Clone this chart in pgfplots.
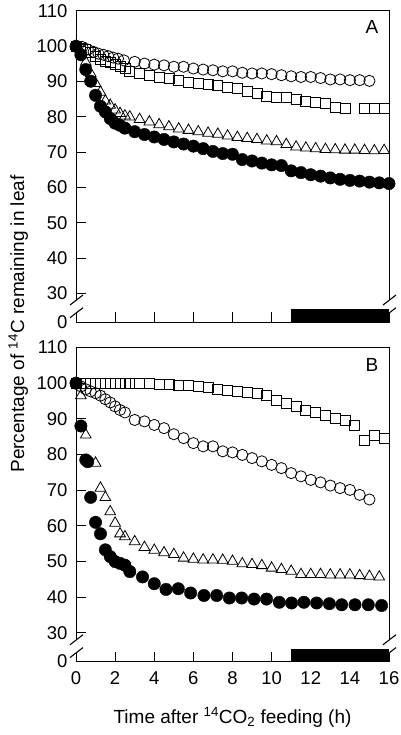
\documentclass[border=0pt]{standalone}
\usepackage{fontspec}
\setmainfont{Liberation Sans}
\usepackage{pgfplots}
\pgfplotsset{compat=1.18}

\tikzset{brk/.style={line width=1.1pt}}
\pgfplotsset{
  panel/.style={
    scale only axis, width=313pt,
    xmin=0, xmax=16, ymax=110, clip=false,
    xtick={0,2,...,16}, ytick={30,40,...,110},
    tick align=inside, xtick pos=bottom, ytick pos=left,
    major tick length=10pt,
    axis line style={line width=1pt},
    tick style={line width=1pt, black},
    tick label style={font=\fontsize{18.5}{21}\selectfont},
    yticklabel style={xshift=-5pt},
    xticklabel style={yshift=-7pt},
    /pgf/number format/assume math mode=true,
    extra y tick style={major tick length=0pt},
  },
  oc/.style={only marks, black, mark=o, mark size=5.6pt, mark options={line width=0.8pt}},
  sq/.style={only marks, black, mark=square, mark size=5pt, mark options={line width=0.8pt}},
  tri/.style={only marks, black, mark=triangle, mark size=6.2pt, mark options={line width=0.8pt}},
  fc/.style={only marks, black, mark=*, mark size=6.2pt, mark options={fill=black, line width=0.4pt}},
}

\begin{document}
\begin{tikzpicture}
\path[use as bounding box] (0pt,0pt) rectangle (400pt,-735pt);

% ---------------- Panel A ----------------
\begin{axis}[panel, at={(76pt,-322pt)}, anchor=south west, height=311pt,
  ymin=21.87, xticklabels={},
  extra y ticks={21.87}, extra y tick labels={0}]
\addplot[sq] coordinates {
(0,100) (0.25,99.5) (0.5,99.0) (0.75,98.3) (1.0,97.2) (1.25,96.4) (1.5,95.8) (1.75,95.4)
(2.0,94.8) (2.25,94.3) (2.5,93.7) (2.75,92.9) (3.25,92.4) (3.75,91.8) (4.25,91.3) (4.75,91.0)
(5.25,90.4) (5.75,89.9) (6.25,89.6) (6.75,89.2) (7.25,88.9) (7.75,88.4) (8.25,88.0) (8.75,87.1)
(9.25,86.6) (9.75,85.9) (10.25,85.6) (10.75,85.6) (11.25,85.0) (11.75,84.5) (12.25,84.2)
(12.75,83.9) (13.25,82.8) (13.75,82.5) (14.75,82.4) (15.25,82.4) (15.75,82.4)};
\addplot[oc] coordinates {
(0,100) (0.33,99.8) (0.6,99.1) (0.9,98.4) (1.15,97.9) (1.4,97.6) (1.65,97.2) (1.9,96.8)
(2.15,96.5) (2.45,96.0) (3.0,95.6) (3.5,95.1) (4.0,94.8) (4.5,94.6) (5.0,94.2) (5.5,94.2)
(6.0,93.7) (6.5,93.4) (7.0,93.2) (7.5,92.9) (8.0,92.9) (8.5,92.5) (9.0,92.3) (9.5,92.3)
(10.0,92.1) (10.5,91.8) (11.0,91.5) (11.5,91.3) (12.0,91.3) (12.5,91.0) (13.0,90.6)
(13.5,90.6) (14.0,90.4) (14.5,90.4) (15.0,90.2)};
\addplot[tri] coordinates {
(0,100) (0.5,95.5) (0.75,92.3) (1.0,89.5) (1.25,87.0) (1.5,84.5) (1.75,83.3) (2.0,82.0)
(2.25,81.0) (2.5,80.3) (2.75,80.0) (3.25,79.3) (3.75,78.6) (4.25,77.8) (4.75,77.2)
(5.25,76.6) (5.75,76.2) (6.25,75.8) (6.75,75.4) (7.25,75.1) (7.75,74.6) (8.25,74.2)
(8.75,73.9) (9.25,73.6) (9.75,73.2) (10.25,73.0) (10.75,72.2) (11.25,71.5) (11.75,71.2)
(12.25,71.0) (12.75,70.8) (13.25,70.7) (13.75,70.6) (14.25,70.6) (14.75,70.5) (15.25,70.4)
(15.75,70.5)};
\addplot[fc] coordinates {
(0,100) (0.25,97.6) (0.5,93.4) (0.75,90.1) (1.0,86.1) (1.25,83.0) (1.5,81.4) (1.75,79.5)
(2.0,78.2) (2.25,77.6) (2.5,76.8) (3.0,75.8) (3.5,75.0) (4.0,74.3) (4.5,73.6) (5.0,72.9)
(5.5,72.3) (6.0,71.7) (6.5,71.0) (7.0,70.2) (7.5,69.6) (8.0,69.4) (8.5,67.9) (9.0,67.5)
(9.5,66.9) (10.0,66.4) (10.5,66.2) (11.0,64.7) (11.5,64.2) (12.0,63.6) (12.5,63.2)
(13.0,62.7) (13.5,62.3) (14.0,62.0) (14.5,61.8) (15.0,61.5) (15.5,61.3) (16.0,61.1)};
% axis breaks and dark period
\fill[white] ([xshift=-3pt]axis cs:0,24.5) rectangle ([xshift=3pt]axis cs:0,28.1);
\fill[white] ([xshift=-3pt]axis cs:16,24.5) rectangle ([xshift=3pt]axis cs:16,28.1);
\fill[black] (axis cs:11,21.87) rectangle (axis cs:16,25.5);
\draw[brk] ([xshift=-6pt,yshift=-5pt]axis cs:0,24.5) -- ([xshift=7pt,yshift=5pt]axis cs:0,24.5);
\draw[brk] ([xshift=-6pt,yshift=-5pt]axis cs:0,28.1) -- ([xshift=7pt,yshift=5pt]axis cs:0,28.1);
\draw[brk] ([xshift=-6pt,yshift=-5pt]axis cs:16,24.5) -- ([xshift=7pt,yshift=5pt]axis cs:16,24.5);
\draw[brk] ([xshift=-6pt,yshift=-5pt]axis cs:16,28.1) -- ([xshift=7pt,yshift=5pt]axis cs:16,28.1);
\node[font=\fontsize{19}{22}\selectfont] at (axis cs:15.13,105.4) {A};
\end{axis}

% ---------------- Panel B ----------------
\begin{axis}[panel, at={(76pt,-661.5pt)}, anchor=south west, height=314pt,
  ymin=22.0,
  extra y ticks={22.0}, extra y tick labels={0},
  xlabel={Time after \textsuperscript{14}CO\textsubscript{2} feeding (h)},
  xlabel style={font=\fontsize{19}{22}\selectfont, at={(axis description cs:0.5,0)}, anchor=base, yshift=-61.5pt}]
\addplot[sq] coordinates {
(0,100) (0.25,100) (0.5,100) (0.75,100) (1.0,100) (1.25,100) (1.5,100) (1.75,100)
(2.0,100) (2.25,100) (2.5,100) (2.75,100) (3.25,100) (3.75,99.9) (4.25,99.7) (4.75,99.7)
(5.25,99.5) (5.75,99.3) (6.25,99.1) (6.75,98.8) (7.25,98.3) (7.75,98.1) (8.25,97.7)
(8.75,97.4) (9.25,97.2) (9.75,96.7) (10.25,95.3) (10.75,94.4) (11.25,93.5) (11.75,92.4)
(12.25,91.8) (12.75,90.9) (13.25,90.2) (13.75,89.7) (14.25,88.1) (14.75,84.1) (15.25,85.5)
(15.75,84.6)};
\addplot[oc] coordinates {
(0,100) (0.25,99.1) (0.5,98.3) (0.75,97.7) (1.0,97.2) (1.25,96.5) (1.5,95.5) (1.75,94.6)
(2.0,93.5) (2.25,92.5) (2.5,91.8) (3.0,89.7) (3.5,89.3) (4.0,88.3) (4.5,87.4) (5.0,85.7)
(5.5,84.6) (6.0,83.2) (6.5,82.3) (7.0,82.3) (7.5,80.9) (8.0,80.6) (8.5,79.9) (9.0,79.0)
(9.5,78.1) (10.0,77.1) (10.5,76.2) (11.0,74.8) (11.5,73.9) (12.0,72.9) (12.5,72.2)
(13.0,71.3) (13.5,70.6) (14.0,70.1) (14.5,68.7) (15.0,67.4)};
\addplot[tri] coordinates {
(0,100) (0.25,96.5) (0.5,85.5) (1.0,77.6) (1.25,70.6) (1.5,68.0) (1.75,64.0) (2.0,60.8)
(2.25,57.8) (2.5,57.0) (3.0,55.6) (3.5,54.0) (4.0,53.2) (4.5,52.5) (5.0,52.0) (5.5,51.0)
(6.0,50.7) (6.5,50.5) (7.0,50.5) (7.5,50.4) (8.0,50.1) (8.5,49.4) (9.0,49.2) (9.5,48.9)
(10.0,48.2) (10.5,47.8) (11.0,47.3) (11.5,46.4) (12.0,46.4) (12.5,46.4) (13.0,46.3)
(13.5,46.3) (14.0,46.3) (14.5,46.1) (15.0,45.9) (15.5,45.7)};
\addplot[fc] coordinates {
(0,100) (0.25,88.0) (0.5,78.5) (0.6,78.0) (0.75,68.0) (1.0,61.0) (1.25,57.8) (1.5,53.3)
(1.75,51.4) (2.0,50.0) (2.25,49.5) (2.5,49.0) (2.75,47.2) (3.4,45.7) (4.0,43.8) (4.6,42.2)
(5.23,42.4) (5.86,41.2) (6.54,40.5) (7.19,40.5) (7.84,39.8) (8.47,39.8) (9.1,39.5)
(9.74,39.5) (10.39,38.6) (11.02,38.4) (11.65,38.6) (12.3,38.4) (12.95,38.2) (13.58,37.9)
(14.26,37.9) (14.94,37.9) (15.62,37.7)};
\fill[white] ([xshift=-3pt]axis cs:0,24.5) rectangle ([xshift=3pt]axis cs:0,28.1);
\fill[white] ([xshift=-3pt]axis cs:16,24.5) rectangle ([xshift=3pt]axis cs:16,28.1);
\fill[black] (axis cs:11,22.0) rectangle (axis cs:16,25.4);
\draw[brk] ([xshift=-6pt,yshift=-5pt]axis cs:0,24.5) -- ([xshift=7pt,yshift=5pt]axis cs:0,24.5);
\draw[brk] ([xshift=-6pt,yshift=-5pt]axis cs:0,28.1) -- ([xshift=7pt,yshift=5pt]axis cs:0,28.1);
\draw[brk] ([xshift=-6pt,yshift=-5pt]axis cs:16,24.5) -- ([xshift=7pt,yshift=5pt]axis cs:16,24.5);
\draw[brk] ([xshift=-6pt,yshift=-5pt]axis cs:16,28.1) -- ([xshift=7pt,yshift=5pt]axis cs:16,28.1);
\node[font=\fontsize{19}{22}\selectfont] at (axis cs:15.13,105.1) {B};
\end{axis}

\node[rotate=90, anchor=base, font=\fontsize{19}{22}\selectfont] at (24pt,-324pt)
  {Percentage of \textsuperscript{14}C remaining in leaf};
\end{tikzpicture}
\end{document}
